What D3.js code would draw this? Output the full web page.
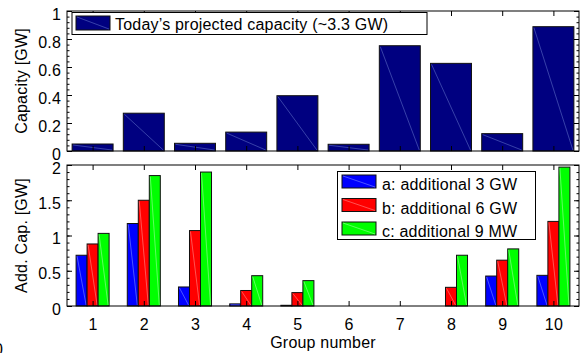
<!DOCTYPE html>
<html>
<head>
<meta charset="utf-8">
<script src="https://cdn.jsdelivr.net/npm/d3@7/dist/d3.min.js"></script>
<style>
  body { margin: 0; background: #fff; }
  svg text { font-family: "Liberation Sans", Arial, sans-serif; fill: #000; font-size: 16px; letter-spacing: 0.2px; }
  .tick text { font-size: 16px; }
  .tick line { stroke: #000; }
</style>
</head>
<body>
<svg id="chart" width="585" height="353"></svg>
<script>
// Data
const groups = [1, 2, 3, 4, 5, 6, 7, 8, 9, 10];
const capacity = [0.05, 0.27, 0.055, 0.135, 0.395, 0.048, 0.752, 0.626, 0.124, 0.888];
const addA = [0.72, 1.17, 0.27, 0.03, 0.01, 0, 0, 0, 0.425, 0.435];
const addB = [0.88, 1.50, 1.07, 0.22, 0.19, 0, 0, 0.265, 0.65, 1.20];
const addC = [1.03, 1.85, 1.90, 0.43, 0.36, 0, 0, 0.72, 0.81, 1.97];
const seriesNames = ['a: additional 3 GW', 'b: additional 6 GW', 'c: additional 9 MW'];
const seriesColors = ['#0000ff', '#ff0000', '#00ff00'];
const diagColors = ['#7d8cff', '#ff8a8a', '#9cff9c'];
const topLabel = "Today\u2019s projected capacity (~3.3 GW)";

const svg = d3.select('#chart');

// Layout of the two axes
const X0 = 67, X1 = 579;
const topBox = { y0: 11, y1: 151 };
const botBox = { y0: 165, y1: 306 };

const x = d3.scaleLinear().domain([0.5, 10.5]).range([X0, X1]);
const yTop = d3.scaleLinear().domain([0, 1]).range([topBox.y1, topBox.y0]);
const yBot = d3.scaleLinear().domain([0, 2]).range([botBox.y1, botBox.y0]);

// Draws box axes with inward ticks, MATLAB style
function drawFrame(y, yMajor, yMinor, fmt, showX) {
   const [yb, yt] = y.range();
   const g = svg.append('g');

   const left = g.append('g').attr('transform', 'translate(' + X0 + ',0)')
      .call(d3.axisLeft(y).tickValues(yMajor).tickSize(-5).tickPadding(6).tickFormat(fmt));
   g.append('g').attr('transform', 'translate(' + X0 + ',0)')
      .call(d3.axisLeft(y).tickValues(yMinor).tickSize(-2.5).tickFormat(''));
   g.append('g').attr('transform', 'translate(' + X1 + ',0)')
      .call(d3.axisRight(y).tickValues(yMajor).tickSize(-5).tickFormat(''));
   g.append('g').attr('transform', 'translate(' + X1 + ',0)')
      .call(d3.axisRight(y).tickValues(yMinor).tickSize(-2.5).tickFormat(''));

   g.append('g').attr('transform', 'translate(0,' + yt + ')')
      .call(d3.axisTop(x).tickValues(groups).tickSize(-5).tickFormat(''));
   g.append('g').attr('transform', 'translate(0,' + yb + ')')
      .call(d3.axisBottom(x).tickValues(groups).tickSize(-5).tickPadding(13)
            .tickFormat(showX ? d3.format('d') : ''));

   g.selectAll('.domain').remove();
   left.selectAll('.tick text').attr('dy', '0.5em');

   g.append('rect')
    .attr('x', X0).attr('y', yt)
    .attr('width', X1 - X0).attr('height', yb - yt)
    .attr('fill', 'none').attr('stroke', '#000').attr('stroke-width', 1);
   return g;
}

// Bars with the faint diagonal seen in the original
function bar(parent, x0, x1, y0, y1, fill, diag) {
   parent.append('rect')
         .attr('x', x0).attr('y', y1)
         .attr('width', x1 - x0).attr('height', y0 - y1)
         .attr('fill', fill).attr('stroke', '#111').attr('stroke-width', 1);
   if (y0 - y1 > 1) {
      parent.append('line')
            .attr('x1', x0 + 1).attr('y1', y1 + 1)
            .attr('x2', x1 - 1).attr('y2', y0 - 1)
            .attr('stroke', diag).attr('stroke-width', 0.6);
   }
}

// ---- top chart
const topBars = svg.append('g');
groups.forEach((gNum, i) => {
   bar(topBars, x(gNum - 0.4), x(gNum + 0.4), yTop(0), yTop(capacity[i]), '#000080', '#5d6bc4');
});
drawFrame(yTop, d3.range(0, 1.01, 0.2), d3.range(0, 1.001, 0.04), d => d === 0 ? '0' : d3.format('.1f')(d) === '1.0' ? '1' : d3.format('.1f')(d), false);

// top legend
const lg1 = svg.append('g');
lg1.append('rect').attr('x', 72).attr('y', 12.5).attr('width', 355).attr('height', 22)
   .attr('fill', '#fff').attr('stroke', '#000');
bar(lg1, 76, 110, 30, 16, '#000080', '#5d6bc4');
lg1.append('text').attr('x', 115).attr('y', 29.5).text(topLabel);

// ---- bottom chart
const sub = d3.scaleBand().domain([0, 1, 2]).range([-0.3225, 0.3225]);
const bw = sub.bandwidth();
const botBars = svg.append('g');
[addA, addB, addC].forEach((vals, s) => {
   groups.forEach((gNum, i) => {
      const c = gNum + sub(s);
      bar(botBars, x(c), x(c + bw), yBot(0), yBot(vals[i]), seriesColors[s], diagColors[s]);
   });
});
drawFrame(yBot, d3.range(0, 2.01, 0.5), d3.range(0, 2.001, 0.1), d3.format('~g'), true);

// bottom legend
const lg2 = svg.append('g');
lg2.append('rect').attr('x', 337.5).attr('y', 171.5).attr('width', 198).attr('height', 68)
   .attr('fill', '#fff').attr('stroke', '#000');
seriesNames.forEach((name, s) => {
   const yy = 175 + s * 23.5;
   bar(lg2, 342, 376, yy + 13, yy, seriesColors[s], diagColors[s]);
   lg2.append('text').attr('x', 382).attr('y', yy + 15).text(name);
});

// axis titles
svg.append('text')
   .attr('transform', 'translate(27,' + (topBox.y0 + topBox.y1) / 2 + ') rotate(-90)')
   .attr('text-anchor', 'middle').text('Capacity [GW]');
svg.append('text')
   .attr('transform', 'translate(27,' + (botBox.y0 + botBox.y1) / 2 + ') rotate(-90)')
   .attr('text-anchor', 'middle').text('Add. Cap. [GW]');
svg.append('text')
   .attr('x', (X0 + X1) / 2).attr('y', 348)
   .attr('text-anchor', 'middle').text('Group number');

// clipped glyph at the lower left corner of the original
svg.append('text').attr('x', -6).attr('y', 355).text('0');
</script>
</body>
</html>
